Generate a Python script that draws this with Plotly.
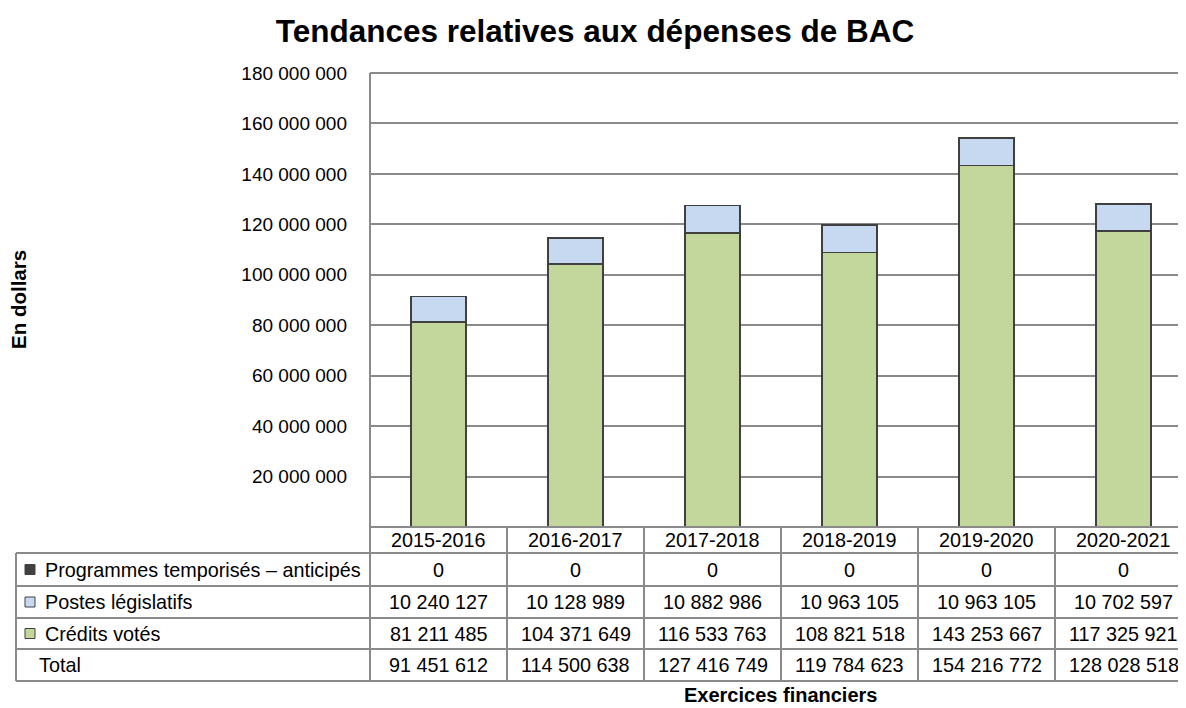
import plotly.graph_objects as go

years = ["2015-2016", "2016-2017", "2017-2018", "2018-2019", "2019-2020", "2020-2021"]
programmes_temporises = [0, 0, 0, 0, 0, 0]
postes_legislatifs = [10240127, 10128989, 10882986, 10963105, 10963105, 10702597]
credits_votes = [81211485, 104371649, 116533763, 108821518, 143253667, 117325921]
totals = [91451612, 114500638, 127416749, 119784623, 154216772, 128028518]
tick_vals = [20000000, 40000000, 60000000, 80000000, 100000000, 120000000, 140000000, 160000000, 180000000]

series_names = ["Programmes temporisés – anticipés", "Postes législatifs", "Crédits votés"]
colors = {"prog": "#404040", "postes": "#C6D9F1", "credits": "#C3D69B"}

# page offset (default body margin of the html page)
OFF = 8
FW, FH = 1186 - OFF, 708 - OFF

# pixel geometry of the plotting area (reference screen pixels)
L, R, T, B = 370, 1186, 73, 527
W, H = R - L, B - T
COL = 137  # category width in px


def px(x):
    return (x - L) / W


def py(y):
    return (B - y) / H


def fmt(v):
    return f"{v:,}".replace(",", " ")


x_idx = list(range(len(years)))

fig = go.Figure()
fig.add_trace(go.Bar(x=x_idx, y=credits_votes, name=series_names[2], width=0.4,
                     marker=dict(color=colors["credits"], line=dict(color="#404040", width=1.6))))
fig.add_trace(go.Bar(x=x_idx, y=postes_legislatifs, name=series_names[1], width=0.4,
                     marker=dict(color=colors["postes"], line=dict(color="#404040", width=1.6))))
fig.add_trace(go.Bar(x=x_idx, y=programmes_temporises, name=series_names[0], width=0.4,
                     marker=dict(color=colors["prog"], line=dict(color="#404040", width=0))))

grid_col = "#8a8a8a"
shapes = []
# top gridline (range max)
shapes.append(dict(type="line", xref="paper", yref="paper", x0=0, x1=1, y0=1, y1=1,
                   line=dict(color=grid_col, width=2), layer="below"))
row_lines = [527, 553, 586, 618, 649, 681]
shapes.append(dict(type="line", xref="paper", yref="paper", x0=0, x1=1, y0=py(527), y1=py(527),
                   line=dict(color=grid_col, width=2)))
for yy in row_lines[1:]:
    shapes.append(dict(type="line", xref="paper", yref="paper", x0=px(16), x1=1, y0=py(yy), y1=py(yy),
                       line=dict(color=grid_col, width=2)))
shapes.append(dict(type="line", xref="paper", yref="paper", x0=px(16), x1=px(16), y0=py(553), y1=py(681),
                   line=dict(color=grid_col, width=2)))
shapes.append(dict(type="line", xref="paper", yref="paper", x0=0, x1=0, y0=1, y1=py(681),
                   line=dict(color=grid_col, width=2)))
for i in range(1, len(years)):
    xx = i * COL / W
    shapes.append(dict(type="line", xref="paper", yref="paper", x0=xx, x1=xx, y0=py(527), y1=py(681),
                       line=dict(color=grid_col, width=2)))

row_centers = [540, 569.5, 602, 633.5, 665]
key_cols = [colors["prog"], colors["postes"], colors["credits"]]
for k, c in enumerate(key_cols):
    yc = row_centers[k + 1]
    shapes.append(dict(type="rect", xref="paper", yref="paper", x0=px(25), x1=px(35),
                       y0=py(yc + 5), y1=py(yc - 5), fillcolor=c,
                       line=dict(color="#404040", width=1)))

annotations = []
tfont = dict(family="Liberation Sans, Arial, sans-serif", size=19.8, color="#000000")
rows = [programmes_temporises, postes_legislatifs, credits_votes, totals]
for i, yr in enumerate(years):
    annotations.append(dict(x=i, y=py(row_centers[0]), xref="x", yref="paper", text=yr,
                            showarrow=False, font=tfont, xanchor="center", yanchor="middle"))
    for r, vals in enumerate(rows):
        annotations.append(dict(x=i, y=py(row_centers[r + 1]), xref="x", yref="paper", text=fmt(vals[i]),
                                showarrow=False, font=tfont, xanchor="center", yanchor="middle"))
row_labels = series_names + ["Total"]
for r, lab in enumerate(row_labels):
    x0 = 43 if r < 3 else 37
    annotations.append(dict(x=px(x0), y=py(row_centers[r + 1]), xref="paper", yref="paper", text=lab,
                            showarrow=False, font=tfont, xanchor="left", yanchor="middle"))

bold = dict(family="Liberation Sans, Arial, sans-serif", size=20.5, color="#000000")
annotations.append(dict(x=px(18), y=py(300), xref="paper", yref="paper", text="<b>En dollars</b>",
                        textangle=-90, showarrow=False, font=bold, xanchor="center", yanchor="middle"))
annotations.append(dict(x=px(780), y=py(695), xref="paper", yref="paper", text="<b>Exercices financiers</b>",
                        showarrow=False, font=dict(family="Liberation Sans, Arial, sans-serif", size=20,
                                                   color="#000000"),
                        xanchor="center", yanchor="middle"))

fig.update_layout(
    width=FW, height=FH,
    margin=dict(l=L - OFF, r=R - OFF - FW, t=T - OFF, b=FH - (B - OFF), pad=0),
    paper_bgcolor="white", plot_bgcolor="white",
    barmode="stack", showlegend=False,
    title=dict(text="<b>Tendances relatives aux dépenses de BAC</b>", x=(595 - OFF) / FW, xref="container",
               xanchor="center", y=1 - (31 - OFF) / FH, yref="container", yanchor="middle",
               font=dict(family="Liberation Sans, Arial, sans-serif", size=31.5, color="#000000")),
    xaxis=dict(range=[-0.5, -0.5 + W / COL], showticklabels=False, showgrid=False, zeroline=False,
               showline=False, ticks=""),
    yaxis=dict(range=[0, 180000000], tickvals=tick_vals, ticktext=[fmt(v) for v in tick_vals],
               showgrid=True, gridcolor=grid_col, gridwidth=2, zeroline=False, showline=False,
               ticks="", ticklabelstandoff=22,
               tickfont=dict(family="Liberation Sans, Arial, sans-serif", size=19, color="#000000")),
    shapes=shapes, annotations=annotations,
)

fig.write_html("out.html")
